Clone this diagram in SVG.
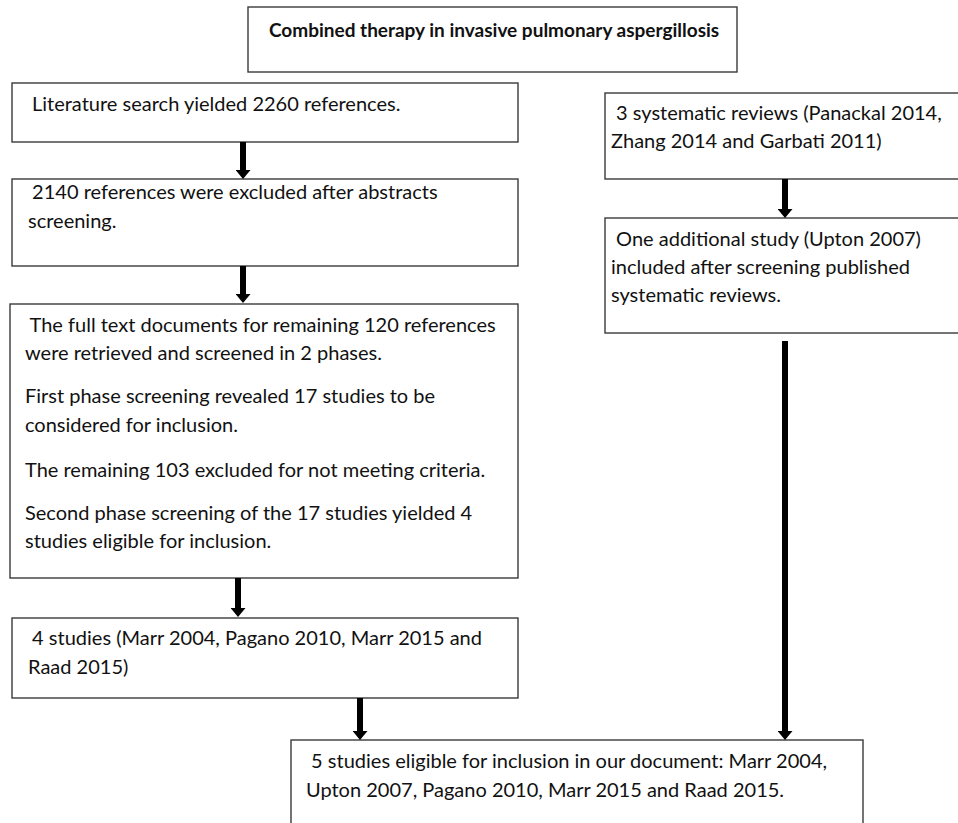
<svg xmlns="http://www.w3.org/2000/svg" width="958" height="823" viewBox="0 0 958 823">
<defs>
<marker id="ah" markerWidth="9" markerHeight="15" refX="0" refY="7.5" orient="auto" markerUnits="userSpaceOnUse">
<path d="M0,0 L9,7.5 L0,15 z" fill="#000"/>
</marker>
<style>
.box{fill:#fff;stroke:#3a3a3a;stroke-width:1.4}
.t{font-family:Lato,"Open Sans",sans-serif;font-size:20px;fill:#111}
.title{font-family:Lato,"Open Sans",sans-serif;font-size:19px;font-weight:bold;fill:#111}
.conn{stroke:#000;stroke-width:6;fill:none;marker-end:url(#ah)}
</style>
</defs>
<rect width="958" height="823" fill="#fff"/>
<g id="title">
<rect class="box" x="248" y="7" width="489" height="65"/>
<text class="title" x="269" y="37">Combined therapy in invasive pulmonary aspergillosis</text>
</g>
<g id="search">
<rect class="box" x="12" y="83" width="506" height="59"/>
<text class="t" x="32" y="111">Literature search yielded 2260 references.</text>
</g>
<g id="abstracts">
<rect class="box" x="12" y="179" width="506" height="87"/>
<text class="t" x="27" y="199" xml:space="preserve"> 2140 references were excluded after abstracts</text>
<text class="t" x="28" y="228">screening.</text>
</g>
<g id="fulltext">
<rect class="box" x="10" y="304" width="508" height="274"/>
<text class="t" x="25" y="332" xml:space="preserve"> The full text documents for remaining 120 references</text>
<text class="t" x="25" y="360">were retrieved and screened in 2 phases.</text>
<text class="t" x="25" y="403">First phase screening revealed 17 studies to be</text>
<text class="t" x="25" y="432">considered for inclusion.</text>
<text class="t" x="25" y="477">The remaining 103 excluded for not meeting criteria.</text>
<text class="t" x="25" y="520">Second phase screening of the 17 studies yielded 4</text>
<text class="t" x="25" y="548">studies eligible for inclusion.</text>
</g>
<g id="four">
<rect class="box" x="12" y="618" width="506" height="80"/>
<text class="t" x="27" y="645" xml:space="preserve"> 4 studies (Marr 2004, Pagano 2010, Marr 2015 and</text>
<text class="t" x="28" y="674">Raad 2015)</text>
</g>
<g id="reviews">
<rect class="box" x="605" y="93" width="360" height="86"/>
<text class="t" x="611" y="120" xml:space="preserve"> 3 systematic reviews (Panackal 2014,</text>
<text class="t" x="611" y="148">Zhang 2014 and Garbati 2011)</text>
</g>
<g id="upton">
<rect class="box" x="605" y="218" width="360" height="115"/>
<text class="t" x="611" y="246" xml:space="preserve"> One additional study (Upton 2007)</text>
<text class="t" x="611" y="274">included after screening published</text>
<text class="t" x="611" y="302">systematic reviews.</text>
</g>
<g id="final">
<rect class="box" x="291" y="740" width="572" height="100"/>
<text class="t" x="306" y="768" xml:space="preserve"> 5 studies eligible for inclusion in our document: Marr 2004,</text>
<text class="t" x="306" y="797">Upton 2007, Pagano 2010, Marr 2015 and Raad 2015.</text>
</g>
<g id="connectors">
<line class="conn" x1="243" y1="142" x2="243" y2="170"/>
<line class="conn" x1="243" y1="266" x2="243" y2="294"/>
<line class="conn" x1="238" y1="578" x2="238" y2="608"/>
<line class="conn" x1="360" y1="698" x2="360" y2="731"/>
<line class="conn" x1="785" y1="179" x2="785" y2="209"/>
<line class="conn" x1="785" y1="341" x2="785" y2="731"/>
</g>
</svg>
